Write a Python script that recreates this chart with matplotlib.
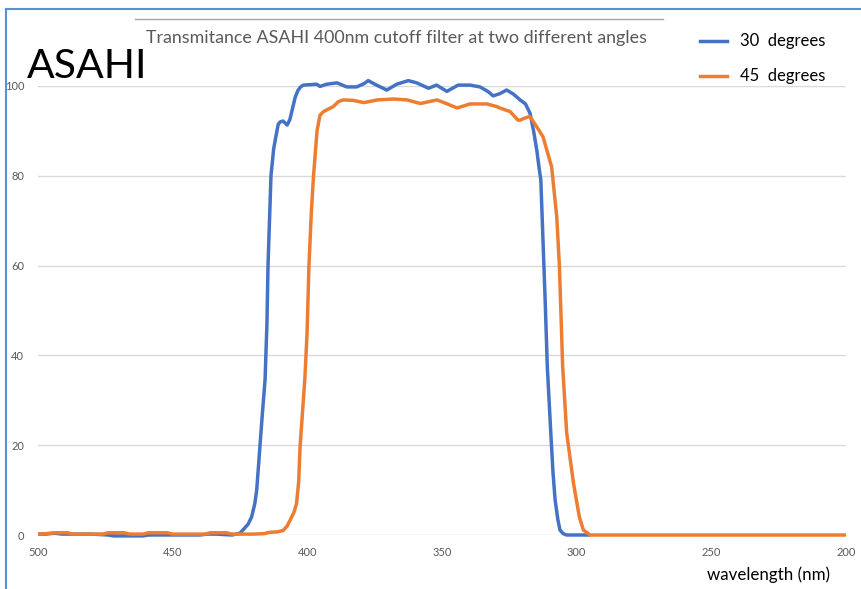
import matplotlib.pyplot as plt
from matplotlib.lines import Line2D

# Transmission data (wavelength nm, transmittance %)
wl_30 = [500, 497, 494, 491, 488, 480, 474, 472, 468, 465, 461, 459, 455, 450,
         445, 440, 437, 434, 431, 428, 425, 423.8, 422, 420.7, 419.5, 418.8,
         417.6, 416.7, 415.7, 415, 414.6, 413.5, 412.5, 411.6, 410.8, 410.1,
         409, 407.5, 406.5, 405.5, 404.5, 403.5, 402.5, 401.5, 399, 396.5,
         395.3, 392.8, 389, 385.4, 381.7, 379, 377.4, 374.3, 370.5, 366.8,
         362.5, 359.4, 355, 352, 348.2, 344, 339.6, 335.9, 333, 331, 328.5,
         326, 323.5, 321, 319, 317.3, 316, 314.8, 314, 313.3, 312.6, 311.7,
         310.9, 309.6, 308.8, 308, 307, 306.2, 305, 303.7, 300, 295]
tr_30 = [0.2, 0.2, 0.4, 0.2, 0.2, 0.2, 0.0, -0.2, -0.2, -0.2, -0.2, 0.0, 0.0, 0.0,
         0.0, 0.0, 0.2, 0.2, 0.1, 0.0, 0.4, 1.2, 2.4, 4.0, 7.0, 10.0,
         19.7, 27.0, 34.5, 47.0, 60.0, 80.0, 86.0, 89.0, 91.5, 92.0,
         92.2, 91.3, 92.5, 95.0, 97.5, 99.0, 99.8, 100.2, 100.3, 100.4,
         99.9, 100.4, 100.7, 99.8, 99.8, 100.5, 101.2, 100.2, 99.1, 100.4,
         101.2, 100.7, 99.5, 100.2, 98.8, 100.2, 100.2, 99.8, 98.8, 97.8, 98.3,
         99.1, 98.2, 96.9, 96.0, 93.9, 90.0, 85.7, 82.0, 79.0, 67.2, 52.3,
         37.5, 22.7, 14.0, 7.8, 3.5, 1.1, 0.3, 0.0, 0.0, 0.0]

wl_45 = [500, 497, 494, 489, 487, 476, 474, 468, 466, 461, 459, 452, 450, 438,
         436, 430, 428, 420, 416, 414, 411, 409, 407.5, 406.4, 405, 404, 403.2,
         402.7, 401.6, 400.9, 400.1, 399.4, 398.5, 397.7, 396.4, 395.3, 394,
         392.7, 390.4, 388.5, 386.7, 383, 379, 374, 371, 368, 363, 358, 355,
         351.8, 348, 344.4, 339.6, 333.3, 329.6, 328.5, 324.7, 321.8, 321,
         319.5, 318, 317.3, 314.7, 312.5, 309.3, 307.4, 306.4, 305.2, 303.7,
         301.2, 299, 297.5, 295, 250, 200]
tr_45 = [0.2, 0.3, 0.5, 0.5, 0.2, 0.2, 0.5, 0.5, 0.2, 0.2, 0.5, 0.5, 0.2, 0.2,
         0.5, 0.5, 0.2, 0.2, 0.3, 0.6, 0.7, 1.0, 2.0, 3.3, 5.0, 7.0, 12.0,
         19.6, 29.0, 35.0, 45.0, 60.0, 72.0, 80.0, 90.0, 93.5, 94.3,
         94.7, 95.4, 96.5, 96.9, 96.8, 96.3, 96.9, 97.0, 97.1, 96.9, 96.1, 96.5,
         96.9, 96.0, 95.1, 96.0, 96.0, 95.4, 95.1, 94.3, 92.4, 92.4,
         92.8, 93.1, 93.2, 90.8, 88.7, 82.0, 70.9, 59.8, 37.5, 22.7,
         11.6, 4.0, 1.1, 0.0, 0.0, 0.0]

series = [("30  degrees", wl_30, tr_30, "#4472C4"),
          ("45  degrees", wl_45, tr_45, "#ED7D31")]

title = "Transmitance ASAHI 400nm cutoff filter at two different angles"
x_ticks = [500, 450, 400, 350, 300, 250, 200]
y_ticks = [0, 20, 40, 60, 80, 100]

plt.rcParams['font.family'] = ['Lato', 'DejaVu Sans']

W, H = 862, 589
fig = plt.figure(figsize=(W / 100, H / 100), dpi=100)
ax = fig.add_axes([38 / W, 1 - 535 / H, (846 - 38) / W, (535 - 86) / H])

for label, wl, tr, color in series:
    ax.plot(wl, tr, color=color, lw=2.5, label=label, clip_on=False,
            solid_joinstyle='round', solid_capstyle='butt')

ax.set_xlim(500, 200)
ax.set_ylim(0, 100)
ax.set_xticks(x_ticks)
ax.set_yticks(y_ticks)
ax.tick_params(length=0, labelsize=8, labelcolor='#595959')
ax.tick_params(axis='x', pad=9)
ax.tick_params(axis='y', pad=10)
ax.grid(axis='y', color='#d9d9d9', lw=1)
ax.set_axisbelow(True)
for s in ax.spines.values():
    s.set_visible(False)

# title with rule above it
fig.text(397 / W, 1 - 38 / H, title, ha='center', va='center',
         fontsize=12.9, color='#595959')
fig.add_artist(Line2D([135 / W, 663 / W], [1 - 19 / H, 1 - 19 / H],
                      color='#a6a6a6', lw=1))

# big label
fig.text(27 / W, 1 - 67 / H, "ASAHI", ha='left', va='center',
         fontsize=29.5, color='black')

# legend drawn by hand to match placement
for i, (label, wl, tr, color) in enumerate(series):
    yy = 1 - (41 + 35 * i) / H
    fig.add_artist(Line2D([700 / W, 727 / W], [yy, yy], color=color, lw=2.5))
    fig.text(740 / W, yy, label, ha='left', va='center', fontsize=12,
             color='black')

fig.text(830 / W, 1 - 575 / H, "wavelength (nm)", ha='right', va='center',
         fontsize=12.2, color='black')

# blue frame on top and left edge
frame = '#5b8fd0'
fig.add_artist(Line2D([6 / W, 1], [1 - 9 / H, 1 - 9 / H], color=frame, lw=1.5))
fig.add_artist(Line2D([6 / W, 6 / W], [0, 1 - 9 / H], color=frame, lw=1.5))

fig.savefig("out.png", dpi=100, facecolor='white')
